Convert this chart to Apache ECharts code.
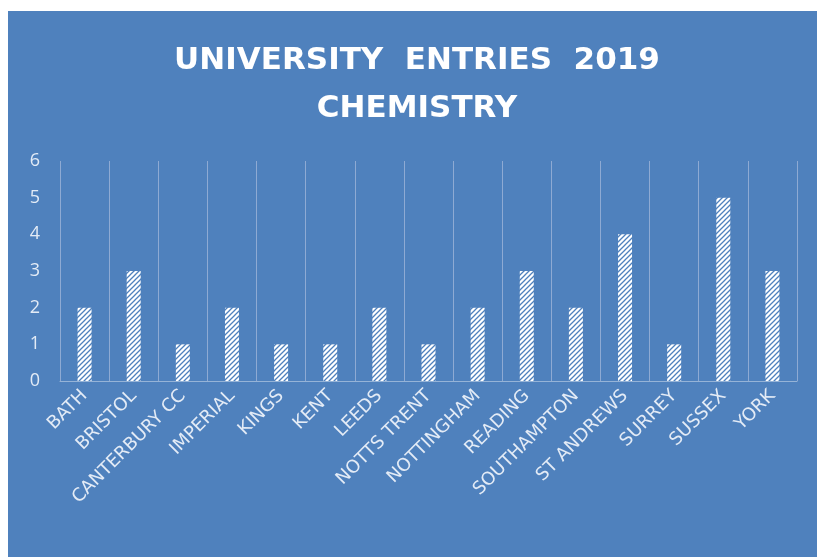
<!DOCTYPE html>
<html>
<head>
<meta charset="utf-8">
<script src="https://cdn.jsdelivr.net/npm/echarts@6/dist/echarts.min.js"></script>
<style>
  html, body { margin: 0; padding: 0; background: #fff; }
  #main { width: 817px; height: 557px; }
</style>
</head>
<body>
<div id="main"></div>
<script>
var universities = ['BATH', 'BRISTOL', 'CANTERBURY CC', 'IMPERIAL', 'KINGS', 'KENT', 'LEEDS',
  'NOTTS TRENT', 'NOTTINGHAM', 'READING', 'SOUTHAMPTON', 'ST ANDREWS', 'SURREY', 'SUSSEX', 'YORK'];
var entries = [2, 3, 1, 2, 1, 1, 2, 1, 2, 3, 2, 4, 1, 5, 3];
var yTicks = [0, 1, 2, 3, 4, 5, 6];

var panelBlue = '#4f81bd';

// hatch pattern for the bars
function makeHatch() {
  var c = document.createElement('canvas');
  c.width = 5; c.height = 5;
  var ctx = c.getContext('2d');
  ctx.fillStyle = '#ffffff';
  ctx.fillRect(0, 0, 5, 5);
  ctx.strokeStyle = panelBlue;
  ctx.lineWidth = 1.3;
  ctx.beginPath();
  ctx.moveTo(-1, 6); ctx.lineTo(6, -1);
  ctx.moveTo(-1, 1); ctx.lineTo(1, -1);
  ctx.moveTo(4, 6); ctx.lineTo(6, 4);
  ctx.stroke();
  return c;
}

var myChart = echarts.init(document.getElementById('main'));

var option = {
  backgroundColor: '#ffffff',
  animation: false,
  graphic: [{
    type: 'rect',
    z: -100,
    shape: { x: 8, y: 11, width: 820, height: 560 },
    style: { fill: panelBlue }
  }],
  title: {
    text: 'UNIVERSITY  ENTRIES  2019\nCHEMISTRY',
    left: 412,
    textAlign: 'center',
    top: 32,
    textStyle: {
      color: '#ffffff',
      fontFamily: 'DejaVu Sans',
      fontWeight: 'bold',
      fontSize: 31,
      lineHeight: 48
    }
  },
  grid: { left: 60, right: 20, top: 161, bottom: 176 },
  xAxis: {
    type: 'category',
    data: universities,
    axisLine: { lineStyle: { color: '#95b3d7', width: 1 } },
    axisTick: { show: false },
    splitLine: { show: true, lineStyle: { color: '#8eaad3', width: 1 } },
    axisLabel: {
      interval: 0,
      rotate: 45,
      color: '#e3ebf6',
      fontFamily: 'DejaVu Sans',
      fontSize: 18,
      margin: 12
    }
  },
  yAxis: {
    type: 'value',
    min: yTicks[0],
    max: yTicks[yTicks.length - 1],
    interval: 1,
    axisLine: { show: false },
    axisTick: { show: false },
    splitLine: { show: false },
    axisLabel: {
      color: '#e3ebf6',
      fontFamily: 'Open Sans',
      fontSize: 18,
      margin: 20
    }
  },
  series: [{
    type: 'bar',
    data: entries,
    barWidth: 14,
    itemStyle: {
      color: { image: makeHatch(), repeat: 'repeat' }
    }
  }]
};

myChart.setOption(option);
</script>
</body>
</html>
